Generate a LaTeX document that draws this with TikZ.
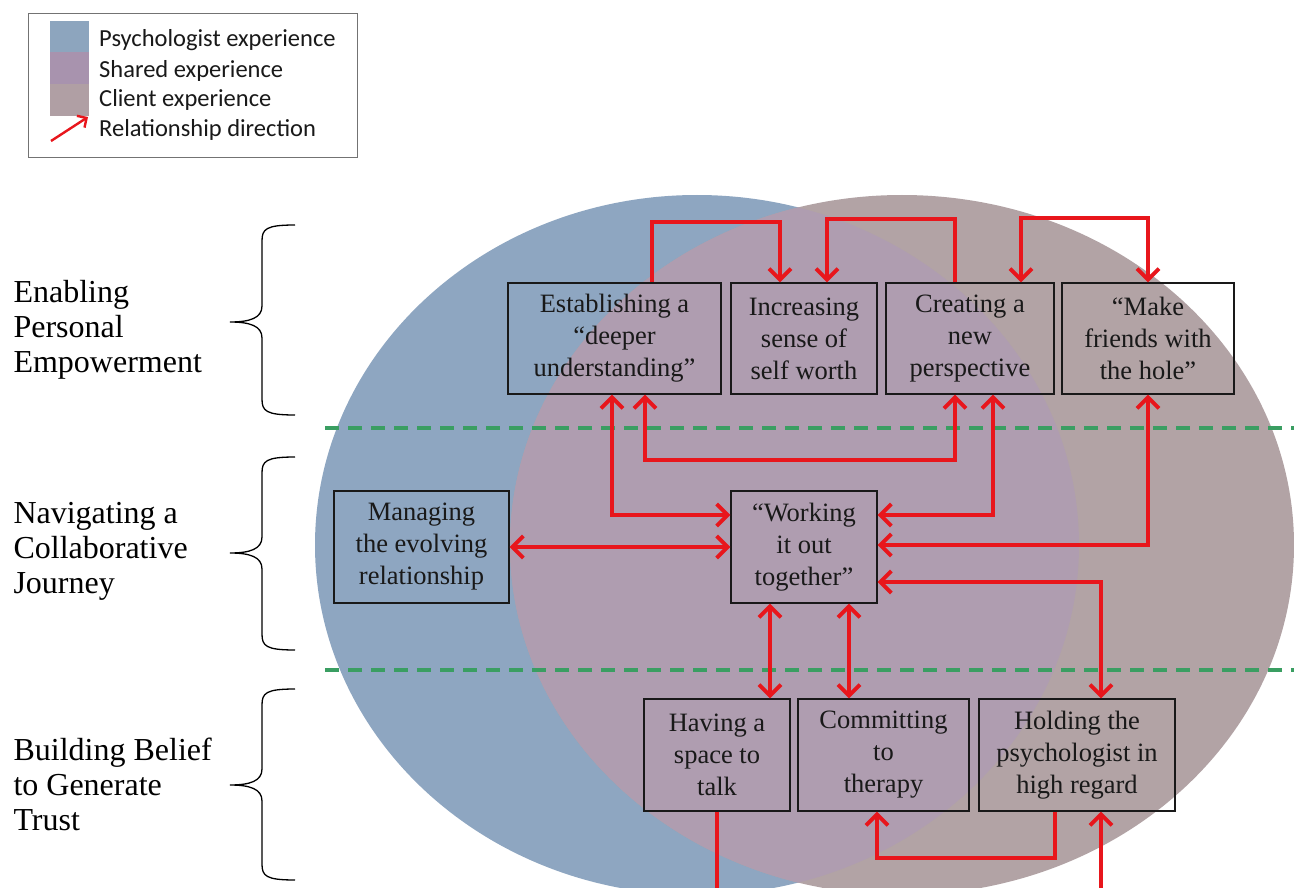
\documentclass[tikz,border=0pt]{standalone}
\usepackage{fontspec}
\setmainfont{Liberation Serif}
\newfontfamily\legendfont{Carlito}
\usetikzlibrary{arrows.meta,calc}
\definecolor{cblue}{RGB}{142,166,193}
\definecolor{cshared}{RGB}{175,157,176}
\definecolor{cclient}{RGB}{178,163,165}
\definecolor{lblue}{RGB}{141,165,190}
\definecolor{lshared}{RGB}{168,147,174}
\definecolor{lclient}{RGB}{176,159,164}
\definecolor{arrred}{RGB}{232,22,28}
\definecolor{dashgreen}{RGB}{58,158,98}
\definecolor{txt}{RGB}{25,25,25}
\tikzset{
  box/.style={draw=txt, line width=1.4pt, inner sep=0pt, align=center, text=txt,
    font=\fontsize{26.5}{32}\selectfont, minimum height=111pt},
  arr/.style={draw=arrred, line width=3.8pt},
  >={Straight Barb[length=11pt,width=22pt]},
  brace/.style={draw=black, line width=1.3pt},
  sep/.style={draw=dashgreen, line width=3.2pt, dash pattern=on 14pt off 9pt},
  side/.style={anchor=west, align=left, text=black, font=\fontsize{32}{35}\selectfont},
  leg/.style={anchor=west, text=black!90, font=\legendfont\fontsize{24.5}{28}\selectfont, inner sep=0pt}
}
\begin{document}
\begin{tikzpicture}[x=1pt,y=-1pt]
\useasboundingbox (0,0) rectangle (1294,888);
\fill[white] (0,0) rectangle (1294,888);
% circles
\begin{scope}
\clip (0,0) rectangle (1294,888);
\fill[cblue] (697,545) ellipse [x radius=382pt, y radius=350pt];
\fill[cclient] (902,545) ellipse [x radius=392pt, y radius=350pt];
\begin{scope}
\clip (697,545) ellipse [x radius=382pt, y radius=350pt];
\fill[cshared] (902,545) ellipse [x radius=392pt, y radius=350pt];
\end{scope}
\end{scope}
% separators
\draw[sep] (325,428) -- (1294,428);
\draw[sep] (325,670) -- (1294,670);
% legend
\draw[draw=black!55, line width=0.8pt] (28,13) rectangle (357,157);
\fill[lblue] (50,21) rectangle (89,52);
\fill[lshared] (50,52) rectangle (89,84);
\fill[lclient] (50,84) rectangle (89,116);
\node[leg] (l1) at (99,40) {Psychologist experience};
\node[leg] (l2) at (99,71) {Shared experience};
\node[leg] (l3) at (99,100) {Client experience};
\node[leg] (l4) at (99,130) {Relationship direction};
\coordinate (la) at (51,141);
\coordinate (lb) at (88,117);
\draw[draw=arrred, line width=2.4pt, -{Straight Barb[length=7pt,width=14pt]}] (la) -- (lb);
% braces
\foreach \t/\m/\b in {225/322/415, 457/553/650, 689/785/880}{
  \draw[brace] (295,\t) .. controls (266,\t) and (262,\t+4) .. (262,\t+16)
     -- (262,\m-16) .. controls (262,\m-4) and (250,\m) .. (230,\m)
     .. controls (250,\m) and (262,\m+4) .. (262,\m+16)
     -- (262,\b-16) .. controls (262,\b-4) and (266,\b) .. (295,\b);
}
\node[side] (s1) at (10,330) {Enabling\\Personal\\Empowerment};
\node[side] (s2) at (10,551) {Navigating a\\Collaborative\\Journey};
\node[side] (s3) at (10,784) {Building Belief\\to Generate\\Trust};
% boxes
\node[box, minimum width=213pt] (est) at (614.5,338.5) {Establishing a\\``deeper\\understanding''};
\node[box, minimum width=146pt] (inc) at (804,338.5) {Increasing\\sense of\\self worth};
\node[box, minimum width=168pt] (cre) at (970,338.5) {Creating a\\new\\perspective};
\node[box, minimum width=172pt] (mak) at (1148,338.5) {``Make\\friends with\\the hole''};
\node[box, minimum width=175pt, minimum height=112pt] (man) at (421.5,547) {Managing\\the evolving\\relationship};
\node[box, minimum width=146pt, minimum height=112pt] (wor) at (804,547) {``Working\\it out\\together''};
\node[box, minimum width=146pt, minimum height=112pt] (hav) at (717,755) {Having a\\space to\\talk};
\node[box, minimum width=171pt, minimum height=112pt] (com) at (883.5,755) {Committing\\to\\therapy};
\node[box, minimum width=196pt, minimum height=112pt] (hol) at (1077,755) {Holding the\\psychologist in\\high regard};
% arrows top
\draw[arr,->] (est.north -| 652,0) |- (780,222) -- (inc.north -| 780,0);
\draw[arr,->] (cre.north -| 955,0) |- (827,219) -- (inc.north -| 827,0);
\draw[arr,<->] (cre.north -| 1021,0) |- (1148,218) -- (mak.north);
% arrows middle
\draw[arr,<->] (est.south -| 612,0) |- (wor.west |- 0,515);
\draw[arr,<->] (est.south -| 645,0) |- (955,460) -- (cre.south -| 955,0);
\draw[arr,<->] (cre.south -| 993,0) |- (wor.east |- 0,515);
\draw[arr,<->] (mak.south) |- (wor.east |- 0,545);
\draw[arr,<->] (wor.east |- 0,582) -| (hol.north -| 1101,0);
\draw[arr,<->] (man.east) -- (wor.west |- man.east);
\draw[arr,<->] (wor.south -| 770,0) -- (hav.north -| 770,0);
\draw[arr,<->] (wor.south -| 849,0) -- (com.north -| 849,0);
% arrows bottom
\draw[arr,->] (hol.south -| 1055,0) |- (877,858) -- (com.south -| 877,0);
\coordinate (b1) at (717,892);
\coordinate (b2) at (1101,892);
\draw[arr] (hav.south) -- (b1);
\draw[arr,->] (b2) -- (hol.south -| 1101,0);
\end{tikzpicture}
\end{document}
